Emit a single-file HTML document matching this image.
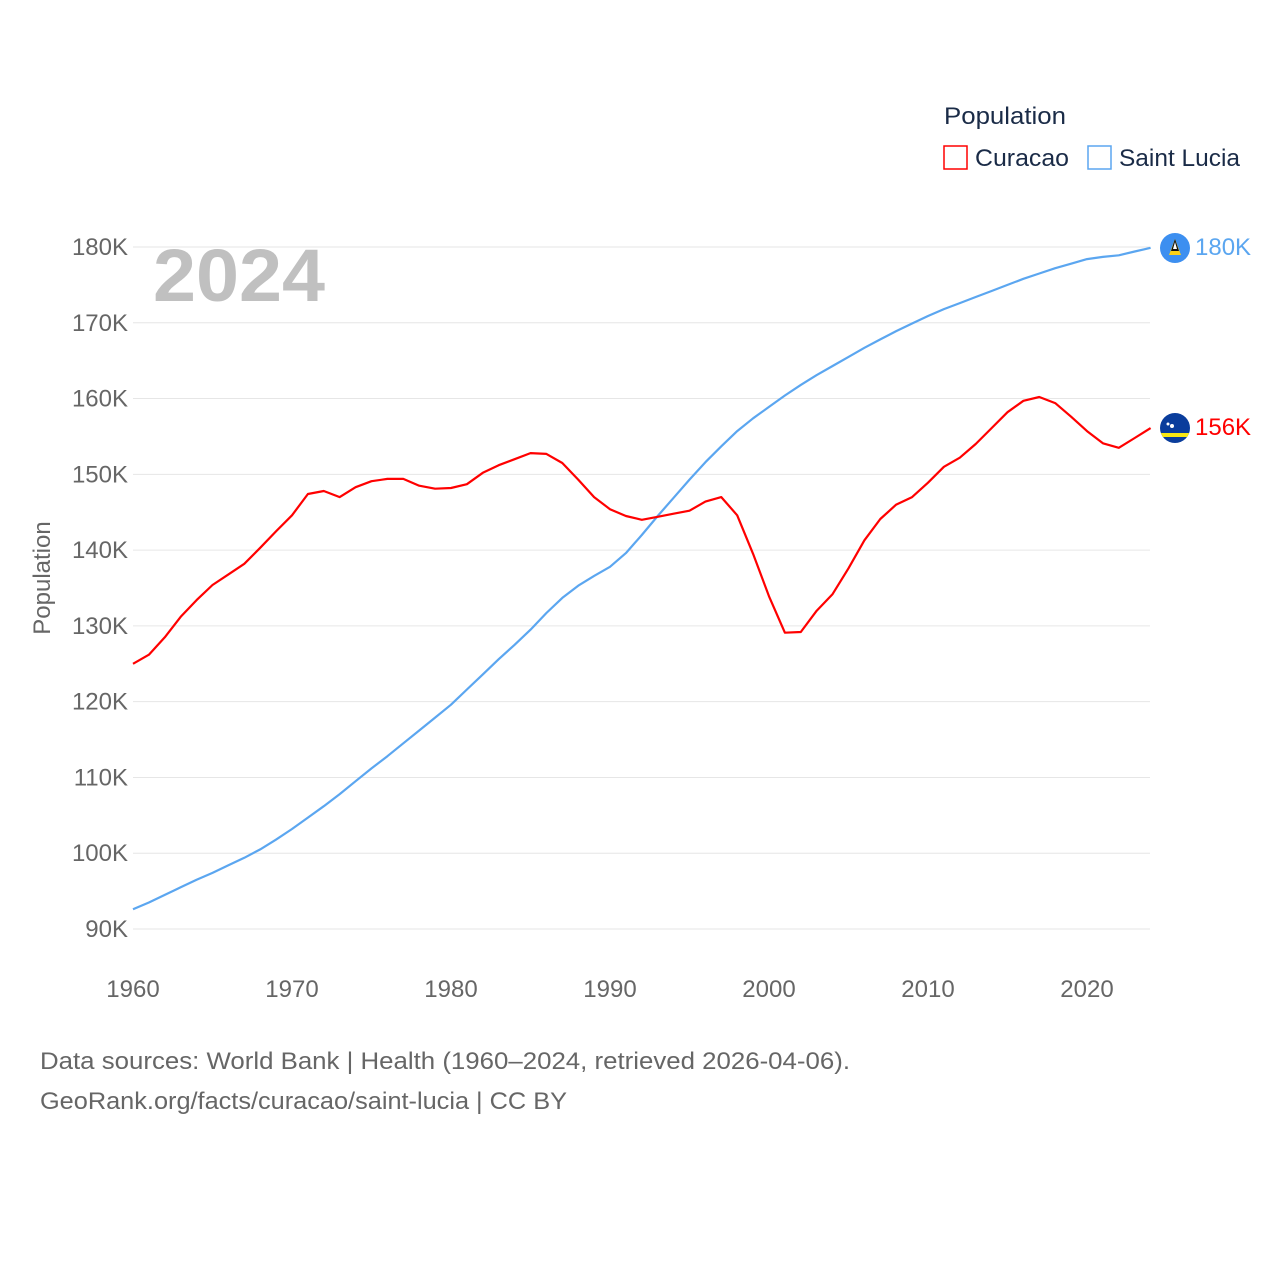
<!DOCTYPE html>
<html><head><meta charset="utf-8"><style>
body{margin:0;background:#fff;font-family:"Liberation Sans",sans-serif}
svg{display:block}
</style></head><body>
<svg id="chart" width="1280" height="1280" viewBox="0 0 1280 1280">
<g id="grid"></g>
<g id="yt"></g>
<g id="xt"></g>
<text x="153" y="301" font-size="74" font-weight="bold" fill="#c0c0c0" textLength="172" lengthAdjust="spacingAndGlyphs">2024</text>
<text transform="translate(50,578) rotate(-90)" text-anchor="middle" font-size="24" fill="#666">Population</text>
<g id="lines"></g>
<text x="944" y="124" font-size="24" fill="#1a2b47" textLength="122" lengthAdjust="spacingAndGlyphs">Population</text>
<g><rect x="944" y="146" width="23" height="23" fill="none" stroke="#ff0000" stroke-width="1.5"/><text x="975" y="166" font-size="24" fill="#1a2b47" textLength="94" lengthAdjust="spacingAndGlyphs">Curacao</text></g>
<g><rect x="1088" y="146" width="23" height="23" fill="none" stroke="#5ba6f0" stroke-width="1.5"/><text x="1119" y="166" font-size="24" fill="#1a2b47" textLength="121" lengthAdjust="spacingAndGlyphs">Saint Lucia</text></g>
<g><circle cx="1175" cy="248" r="15" fill="#3d8ff0"/><polygon points="1175,239 1181,255 1169,255" fill="#fcd116"/><polygon points="1175,239 1179,251 1171,251" fill="#111"/><polygon points="1175,242 1177,249 1173,249" fill="#fff"/></g>
<g><clipPath id="cc"><circle cx="1175" cy="428" r="15"/></clipPath><g clip-path="url(#cc)"><rect x="1160" y="413" width="30" height="30" fill="#0a3d9c"/><rect x="1160" y="433" width="30" height="4" fill="#f9e814"/></g><circle cx="1168" cy="424" r="1.5" fill="#fff"/><circle cx="1172" cy="426" r="2" fill="#fff"/></g>
<text x="1195" y="255" font-size="24" fill="#5ba6f0">180K</text>
<text x="1195" y="435" font-size="24" fill="#ff0000">156K</text>
<text x="40" y="1069" font-size="24" fill="#666" textLength="810" lengthAdjust="spacingAndGlyphs">Data sources: World Bank | Health (1960–2024, retrieved 2026-04-06).</text>
<text x="40" y="1109" font-size="24" fill="#666" textLength="527" lengthAdjust="spacingAndGlyphs">GeoRank.org/facts/curacao/saint-lucia | CC BY</text>
</svg>
<script>
const years=[];for(let y=1960;y<=2024;y++)years.push(y);
const curacao=[125.0,126.2,128.5,131.2,133.4,135.4,136.8,138.2,140.3,142.5,144.6,147.4,147.8,147.0,148.3,149.1,149.4,149.4,148.5,148.1,148.2,148.7,150.2,151.2,152.0,152.8,152.7,151.5,149.3,147.0,145.4,144.5,144.0,144.4,144.8,145.2,146.4,147.0,144.6,139.5,133.9,129.1,129.2,132.0,134.2,137.6,141.3,144.1,146.0,147.0,148.9,151.0,152.2,154.0,156.1,158.2,159.7,160.2,159.4,157.6,155.7,154.1,153.5,154.8,156.1];
const saintLucia=[92.6,93.5,94.5,95.5,96.5,97.4,98.4,99.4,100.5,101.8,103.2,104.7,106.2,107.8,109.5,111.2,112.8,114.5,116.2,117.9,119.6,121.6,123.6,125.6,127.5,129.5,131.7,133.7,135.3,136.6,137.8,139.6,142.0,144.5,146.9,149.3,151.6,153.7,155.7,157.4,158.9,160.4,161.8,163.1,164.3,165.5,166.7,167.8,168.9,169.9,170.9,171.8,172.6,173.4,174.2,175.0,175.8,176.5,177.2,177.8,178.4,178.7,178.9,179.4,179.9];
const yTicks=[90,100,110,120,130,140,150,160,170,180];
const xTicks=[1960,1970,1980,1990,2000,2010,2020];
const NS="http://www.w3.org/2000/svg";
const X=y=>133+(y-1960)*(954/60);
const Y=v=>929-(v-90)*(682/90);
function mk(t,a,p){const e=document.createElementNS(NS,t);for(const k in a)e.setAttribute(k,a[k]);p.appendChild(e);return e;}
const grid=document.getElementById('grid'),yt=document.getElementById('yt'),xt=document.getElementById('xt'),lines=document.getElementById('lines');
yTicks.forEach(v=>{
const l=mk('line',{x1:133,x2:1150,y1:Y(v),y2:Y(v),stroke:'#e6e6e6','stroke-width':1},grid);


const t=mk('text',{x:128,y:Y(v)+8,'text-anchor':'end','font-size':24,fill:'#666'},yt);
t.textContent=v+'K';


});
xTicks.forEach(v=>{
const t=mk('text',{x:X(v),y:997,'text-anchor':'middle','font-size':24,fill:'#666'},xt);
t.textContent=v;


});
function line(vals,col,name){
const d=vals.map((v,i)=>(i?'L':'M')+X(years[i]).toFixed(1)+','+Y(v).toFixed(1)).join('');
const p=mk('path',{d:d,fill:'none',stroke:col,'stroke-width':2.2,'stroke-linejoin':'round'},lines);


}
line(saintLucia,'#5ba6f0','line-saint-lucia');
line(curacao,'#ff0000','line-curacao');
</script>
</body></html>
